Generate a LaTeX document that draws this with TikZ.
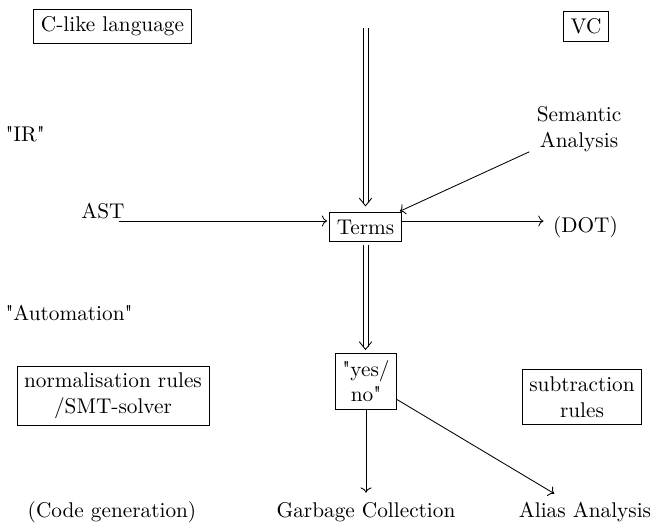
\documentclass[tikz,border=0pt]{standalone}
\usetikzlibrary{arrows.meta}
\newcommand\dblarr[2]{%
 \draw ([xshift=-1.2pt]#1) -- ([xshift=-1.2pt,yshift=1.2pt]#2);
 \draw ([xshift=1.2pt]#1) -- ([xshift=1.2pt,yshift=1.2pt]#2);
 \draw[line cap=round] ([xshift=-2.9pt,yshift=3.6pt]#2) .. controls ([xshift=-1.1pt,yshift=1.6pt]#2) .. (#2) .. controls ([xshift=1.1pt,yshift=1.6pt]#2) .. ([xshift=2.9pt,yshift=3.6pt]#2);
}
\begin{document}
\begin{tikzpicture}[x=0.47pt,y=-0.47pt,
  boxed/.style={draw,align=center},
  plain/.style={align=center},
  arr/.style={->,shorten >=1pt}]
\useasboundingbox (0,0) rectangle (664,527);
\node[boxed] (clike) at (112.5,26.5) {C-like language};
\node[boxed] (vc) at (586,26.5) {VC};
\node[plain,anchor=west] (ir) at (-2,134) {\textquotedbl IR\textquotedbl};
\node[plain] (ast) at (103,211) {AST};
\node[boxed] (terms) at (365.5,227) {Terms};
\node[plain] (dot) at (585.5,227) {(DOT)};
\node[plain] (sem) at (579,129) {Semantic\\Analysis};
\node[plain,anchor=west] (auto) at (-2,313) {\textquotedbl Automation\textquotedbl};
\node[boxed] (norm) at (113,396) {normalisation rules\\/SMT-solver};
\node[boxed] (yesno) at (366,381) {\textquotedbl yes/\\no\textquotedbl};
\node[boxed] (sub) at (582,397) {subtraction\\rules};
\node[plain] (codegen) at (112,512) {(Code generation)};
\node[plain] (gc) at (366,512) {Garbage Collection};
\node[plain] (alias) at (585,512) {Alias Analysis};
\coordinate (startc) at (365.5,28);
\coordinate (astE) at (119,221);
\coordinate (tipA) at ([yshift=3pt]terms.north);
\coordinate (fromB) at ([yshift=-1.5pt]terms.south);
\coordinate (tipB) at ([yshift=1.5pt]yesno.north -| terms.south);
\dblarr{startc}{tipA}
\dblarr{fromB}{tipB}
\draw[arr] (sem) -- (terms);
\draw[arr] (astE) -- (astE -| terms.west);
\draw[arr] (terms.east |- astE) -- (dot.west |- astE);
\draw[arr] (yesno) -- (gc);
\draw[arr] (yesno) -- (alias);
\end{tikzpicture}
\end{document}
